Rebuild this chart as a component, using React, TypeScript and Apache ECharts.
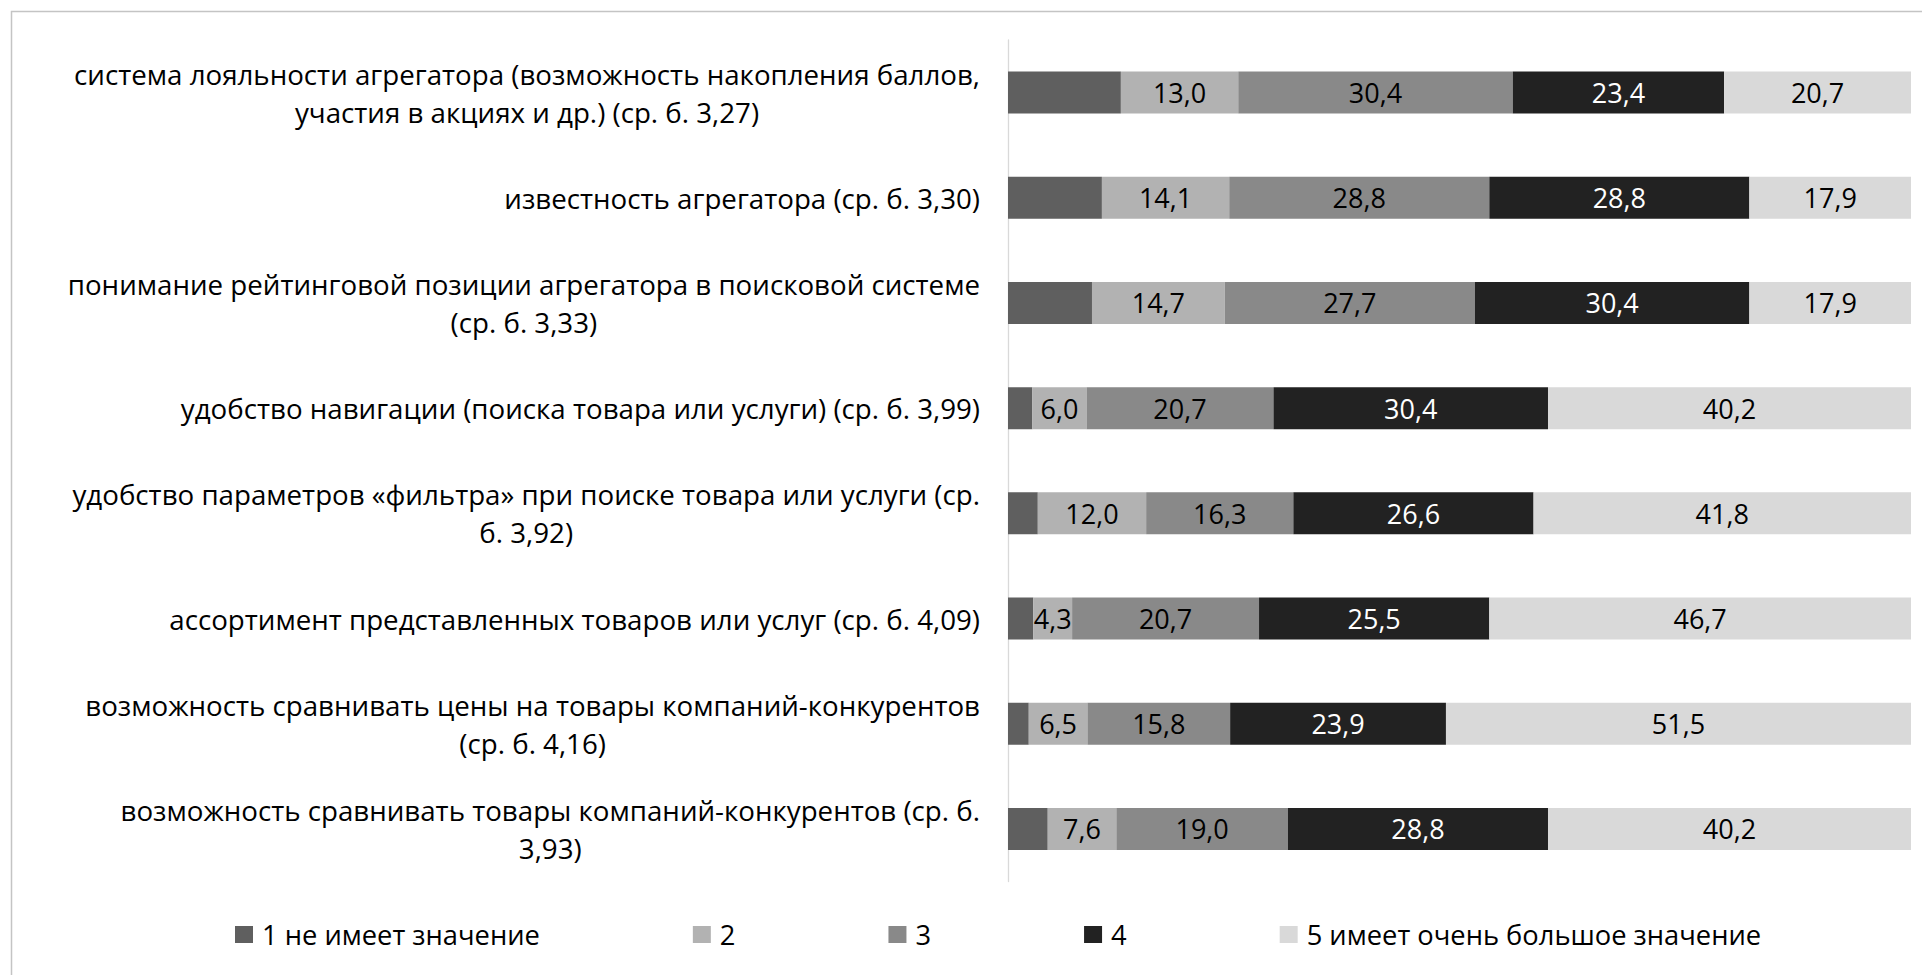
import React, { useEffect, useRef } from "react";
import * as echarts from "echarts";

// Factors, top to bottom (line breaks as they appear on the axis)
const categories: string[] = [
  "система лояльности агрегатора (возможность накопления баллов,\nучастия в акциях и др.) (ср. б. 3,27)",
  "известность агрегатора (ср. б. 3,30)",
  "понимание рейтинговой позиции агрегатора в поисковой системе\n(ср. б. 3,33)",
  "удобство навигации (поиска товара или услуги) (ср. б. 3,99)",
  "удобство параметров «фильтра» при поиске товара или услуги (ср.\nб. 3,92)",
  "ассортимент представленных товаров или услуг (ср. б. 4,09)",
  "возможность сравнивать цены на товары компаний-конкурентов\n(ср. б. 4,16)",
  "возможность сравнивать товары компаний-конкурентов (ср. б.\n3,93)",
];

const seriesNames: string[] = [
  "1 не имеет значение",
  "2",
  "3",
  "4",
  "5 имеет очень большое значение",
];

// Shares of answers, %
const score1: number[] = [12.5, 10.4, 9.3, 2.7, 3.3, 2.8, 2.3, 4.4];
const score2: number[] = [13.0, 14.1, 14.7, 6.0, 12.0, 4.3, 6.5, 7.6];
const score3: number[] = [30.4, 28.8, 27.7, 20.7, 16.3, 20.7, 15.8, 19.0];
const score4: number[] = [23.4, 28.8, 30.4, 30.4, 26.6, 25.5, 23.9, 28.8];
const score5: number[] = [20.7, 17.9, 17.9, 40.2, 41.8, 46.7, 51.5, 40.2];

const colors = ["#5f5f5f", "#b2b2b2", "#898989", "#222222", "#d9d9d9"];
const labelColors = ["#000", "#000", "#000", "#fff", "#000"];
const showLabel = [false, true, true, true, true];

const FONT = "'Open Sans', 'Noto Sans', sans-serif";
const FS_AXIS = 27.7;
const FS = 27;

export default function App() {
  const ref = useRef<HTMLDivElement>(null);

  useEffect(() => {
    if (!ref.current) return;
    const chart = echarts.init(ref.current, null, { renderer: "svg" });
    const values = [score1, score2, score3, score4, score5];

    chart.setOption({
      animation: false,
      backgroundColor: "#fff",
      textStyle: { fontFamily: FONT },
      graphic: [
        {
          type: "rect",
          silent: true,
          shape: { x: 11.5, y: 11.5, width: 2000, height: 2000 },
          style: { fill: "none", stroke: "#c4c4c4", lineWidth: 1.5 },
        },
      ],
      grid: { left: 1008, right: 11, top: 40, bottom: 93.5, containLabel: false },
      xAxis: { type: "value", min: 0, max: 100, show: false },
      yAxis: {
        type: "category",
        inverse: true,
        data: categories,
        axisLine: { show: true, lineStyle: { color: "#d9d9d9", width: 1.3 } },
        axisTick: { show: false },
        axisLabel: {
          margin: 28,
          align: "right",
          formatter: (v: string) =>
            v
              .split("\n")
              .map((l) => `{c|${l}}`)
              .join("\n"),
          rich: {
            c: {
              align: "center",
              fontFamily: FONT,
              fontSize: FS_AXIS,
              lineHeight: 38,
              color: "#000",
            },
          },
        },
      },
      legend: {
        data: seriesNames,
        left: 230,
        top: 916,
        icon: "rect",
        itemWidth: 18,
        itemHeight: 17,
        itemGap: 153,
        textStyle: {
          fontFamily: FONT,
          fontSize: 27.3,
          color: "#000",
          padding: [0, 0, 0, 4],
        },
      },
      series: seriesNames.map((name, i) => ({
        name,
        type: "bar",
        stack: "total",
        barWidth: 42,
        data: values[i],
        itemStyle: { color: colors[i] },
        label: {
          show: showLabel[i],
          position: "inside",
          color: labelColors[i],
          fontFamily: FONT,
          fontSize: FS,
          formatter: (p: any) => Number(p.value).toFixed(1).replace(".", ","),
        },
      })),
    });

    return () => chart.dispose();
  }, []);

  return (
    <div
      style={{
        position: "fixed",
        left: 0,
        top: 0,
        width: 1922,
        height: 975,
        overflow: "hidden",
        background: "#fff",
      }}
    >
      <div ref={ref} style={{ width: 1922, height: 975 }} />
    </div>
  );
}
